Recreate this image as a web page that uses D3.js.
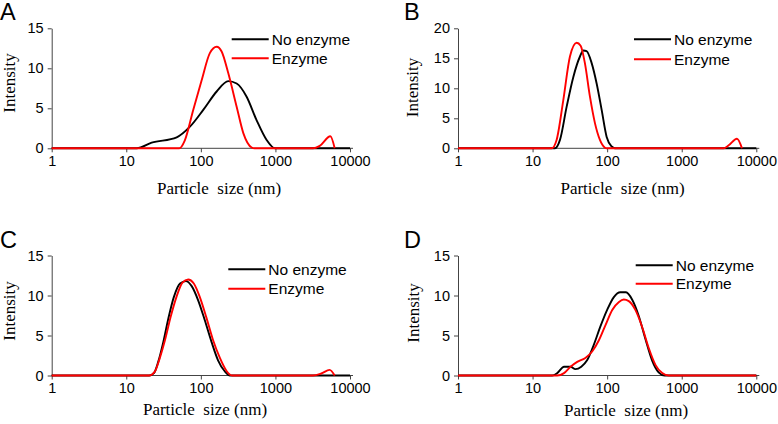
<!DOCTYPE html>
<html><head><meta charset="utf-8">
<script src="https://cdn.jsdelivr.net/npm/d3@7"></script>
<style>
body{margin:0;background:#fff;}
svg{display:block;}
</style></head>
<body>
<svg id="chart" width="778" height="424"></svg>
<script>
// ---- data ----
const xTicks = [1, 10, 100, 1000, 10000];
const xTickLabels = ["1", "10", "100", "1000", "10000"];
const seriesNames = ["No enzyme", "Enzyme"];
const panelLetters = ["A", "B", "C", "D"];
const yMaxes = [15, 20, 15, 15];
const yTickSets = [[0,5,10,15],[0,5,10,15,20],[0,5,10,15],[0,5,10,15]];

// Panel A
const aNoSize = [1, 13.8, 21.9, 47.4, 71.4, 107.7, 163, 233, 302, 411, 560, 762, 985, 10000];
const aNoVal  = [0, 0, 0.7, 1.37, 2.7, 4.8, 7.1, 8.4, 8.1, 6.45, 3.5, 1.04, 0, 0];
const aEnSize = [1, 51.4, 61, 79, 102.5, 132, 163, 190, 233, 302, 371, 480, 525, 3190, 3926, 5455, 6235];
const aEnVal  = [0, 0, 1.0, 4.8, 8.5, 11.9, 12.7, 12.1, 9.4, 5.2, 1.9, 0.1, 0, 0, 0.3, 1.5, 0];
// Panel B
const bNoSize = [1, 20, 23.3, 28.6, 35.2, 43.2, 47.9, 53, 62, 72.3, 84.4, 98.5, 115, 127, 10000];
const bNoVal  = [0, 0, 1.4, 6.9, 11.9, 15.3, 16.3, 16.2, 14.2, 10.8, 6.4, 1.9, 0.3, 0, 0];
const bEnSize = [1, 18, 21, 25.8, 31.7, 39, 44.1, 50.3, 58.8, 68.6, 80, 93.4, 97, 3650, 4260, 5510, 6430];
const bEnVal  = [0, 0, 1.4, 8, 15.3, 17.6, 17.1, 14.2, 8.6, 4.2, 1.4, 0.1, 0, 0, 0.5, 1.6, 0];
// Panel C
const cNoSize = [1, 20.3, 23.5, 26.8, 31.4, 36.6, 43.4, 52.6, 63, 75, 92, 113, 139, 170, 210, 245, 10000];
const cNoVal  = [0, 0, 0.3, 1.7, 4.2, 7.1, 9.8, 11.5, 11.8, 11.2, 9.4, 6.9, 4.2, 1.9, 0.5, 0, 0];
const cEnSize = [1, 20.3, 24.2, 28.2, 33, 39.3, 47, 56.7, 67.6, 80.5, 96.9, 119, 146, 180, 220, 262, 3190, 4120, 5330, 6235];
const cEnVal  = [0, 0, 0.5, 2.2, 4.4, 7.3, 9.8, 11.6, 12.0, 11.5, 9.8, 7.2, 4.4, 2.2, 0.6, 0, 0, 0.25, 0.7, 0];
// Panel D
const dNoSize = [1, 18.3, 21.4, 26.4, 32.3, 37.6, 45, 53.8, 66, 81, 100, 123, 150, 179, 216, 264, 325, 400, 490, 590, 10000];
const dNoVal  = [0, 0, 0.3, 1.1, 1.1, 0.8, 1.1, 1.9, 3.8, 6.1, 8.2, 9.8, 10.4, 10.4, 9.5, 7.5, 4.6, 1.9, 0.4, 0, 0];
const dEnSize = [1, 21.4, 26.4, 32.3, 39.7, 51, 63, 77.5, 95, 117, 144, 167, 195, 239, 294, 362, 446, 548, 670, 10000];
const dEnVal  = [0, 0, 0.3, 1.1, 1.7, 2.2, 3.0, 4.4, 6.3, 8.2, 9.2, 9.5, 9.3, 8.2, 6.1, 3.4, 1.3, 0.3, 0, 0];

const panelData = [
  [[aNoSize, aNoVal], [aEnSize, aEnVal]],
  [[bNoSize, bNoVal], [bEnSize, bEnVal]],
  [[cNoSize, cNoVal], [cEnSize, cEnVal]],
  [[dNoSize, dNoVal], [dEnSize, dEnVal]]
];

// ---- layout ----
const colors = ["#000000", "#ff0000"];
const W = 298.3, H = 120;
const layout = [
  {x0: 51.7, y0: 28.3, lx1: 231.7, ly: [39.3, 58.3], xl: [219, 194], yl: [15, 83], let: [0, 20]},
  {x0: 458,  y0: 28.3, lx1: 634,   ly: [39.3, 59.3], xl: [622.5, 193.5], yl: [418, 87.5], let: [404, 20]},
  {x0: 51.7, y0: 255.5, lx1: 228.3, ly: [269.3, 288.7], xl: [205, 415], yl: [15, 311], let: [0, 248]},
  {x0: 458,  y0: 255.5, lx1: 635.7, ly: [265.3, 283.7], xl: [626, 416], yl: [418.5, 313], let: [404, 248]}
];

const svg = d3.select("#chart");
const axisColor = "#444";

layout.forEach((L, i) => {
  const x = d3.scaleLog().domain([1, 10000]).range([L.x0, L.x0 + W]);
  const y = d3.scaleLinear().domain([0, yMaxes[i]]).range([L.y0 + H, L.y0]);
  const g = svg.append("g");

  // x axis
  const xa = g.append("g").attr("transform", `translate(0,${L.y0 + H})`)
    .call(d3.axisBottom(x).tickValues(xTicks).tickFormat((d, j) => xTickLabels[j]).tickSize(4).tickSizeOuter(0));
  xa.select(".domain").attr("d", `M${L.x0},0H${L.x0 + W + 3}`);
  xa.selectAll("line").attr("stroke", axisColor);
  xa.select(".domain").attr("stroke", axisColor);
  xa.selectAll("text").attr("font-family", "'Liberation Sans', Arial, sans-serif").attr("font-size", 14.5).attr("fill", "#000").attr("dy", "0.95em").attr("y", 4);

  // y axis
  const ya = g.append("g").attr("transform", `translate(${L.x0},0)`)
    .call(d3.axisLeft(y).tickValues(yTickSets[i]).tickSize(4).tickSizeOuter(0));
  ya.selectAll("line").attr("stroke", axisColor);
  ya.select(".domain").attr("stroke", axisColor);
  ya.selectAll("text").attr("font-family", "'Liberation Sans', Arial, sans-serif").attr("font-size", 14.5).attr("fill", "#000").attr("x", -8);

  // lines
  const line = d3.line().x(d => x(d[0])).y(d => y(d[1])).curve(d3.curveMonotoneX);
  panelData[i].forEach((s, k) => {
    const pts = s[0].map((v, j) => [v, s[1][j]]);
    g.append("path").datum(pts).attr("d", line).attr("fill", "none")
      .attr("stroke", colors[k]).attr("stroke-width", 1.9).attr("stroke-linejoin", "round");
  });

  // legend
  seriesNames.forEach((name, k) => {
    g.append("line").attr("x1", L.lx1).attr("x2", L.lx1 + 37).attr("y1", L.ly[k]).attr("y2", L.ly[k])
      .attr("stroke", colors[k]).attr("stroke-width", 2);
    g.append("text").attr("x", L.lx1 + 40).attr("y", L.ly[k]).attr("dy", "0.36em")
      .attr("font-family", "'Liberation Sans', Arial, sans-serif").attr("font-size", 15.5).text(name);
  });

  // axis titles
  g.append("text").attr("x", L.xl[0]).attr("y", L.xl[1]).attr("text-anchor", "middle")
    .attr("font-family", "'Liberation Serif', 'Times New Roman', serif").attr("font-size", 17)
    .style("white-space", "pre").text("Particle  size (nm)");
  g.append("text").attr("transform", `translate(${L.yl[0]},${L.yl[1]}) rotate(-90)`).attr("text-anchor", "middle")
    .attr("font-family", "'Liberation Serif', 'Times New Roman', serif").attr("font-size", 17).text("Intensity");

  // panel letter
  g.append("text").attr("x", L.let[0]).attr("y", L.let[1])
    .attr("font-family", "'Liberation Sans', Arial, sans-serif").attr("font-size", 23.5).text(panelLetters[i]);
});
</script>
</body></html>
